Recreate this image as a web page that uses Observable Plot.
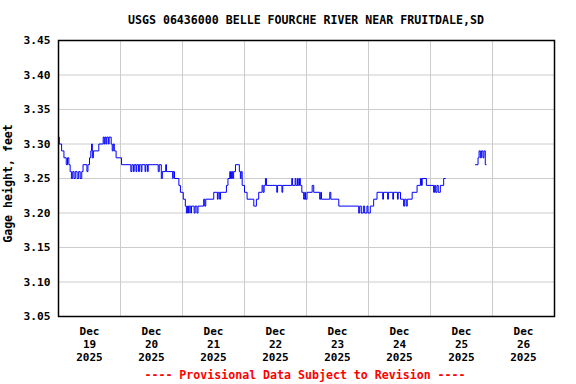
<!DOCTYPE html>
<html>
<head>
<meta charset="utf-8">
<script src="https://cdn.jsdelivr.net/npm/d3@7"></script>
<script src="https://cdn.jsdelivr.net/npm/@observablehq/plot@0.6"></script>
<style>
  html, body { margin: 0; padding: 0; background: #fff; }
  #wrap { position: relative; width: 576px; height: 384px; }
  .txt { position: absolute; left: 0; width: 612px; text-align: center; line-height: 14px;
         font-family: "DejaVu Sans Mono", monospace; font-weight: bold; white-space: pre; }
  #title { top: 13px; font-size: 11.6px; color: #000; }
  #footer { top: 368px; width: 610px; font-size: 11.6px; color: #ff0000; }
  svg { position: absolute; left: 0; top: 0; }
</style>
</head>
<body>
<div id="wrap">
  <div id="chart"></div>
  <div id="title" class="txt">USGS 06436000 BELLE FOURCHE RIVER NEAR FRUITDALE,SD</div>
  <div id="footer" class="txt">---- Provisional Data Subject to Revision ----</div>
</div>
<script>
// Hours since 2025-12-19 00:00 and gage height (ft); null = gap in record
const hours = [
  0, 0.3, 1.2, 2.1, 3.0, 3.5, 4.0, 4.5, 5.0, 5.5, 6.0, 6.5, 7.2, 7.8, 8.4, 9.0, 9.5,
  11.0, 11.4, 12.0, 12.5, 12.8, 13.1, 13.5, 15.6, 17.3, 17.7, 18.0, 18.4, 18.7, 19.3, 19.6,
  20.4, 20.8, 21.2, 21.6, 22.3, 24.4,
  28.0, 28.4, 29.0, 29.3, 30.0, 30.3, 31.0, 31.3, 32.0, 32.3, 33.5, 33.8, 34.5, 34.7,
  38.6, 39.0, 39.8, 40.2, 41.5, 41.8, 44.2, 44.4, 44.9,
  46.6, 47.2, 48.3, 49.1, 49.5, 49.9, 50.3, 50.6, 51.2, 51.5, 52.5, 52.9, 53.6, 54.0,
  56.2, 56.6, 57.0, 60.1, 61.5, 61.8, 62.4, 62.7,
  65.0, 65.6, 66.3, 66.6, 67.0, 67.4, 67.8, 68.5, 70.0, 70.4, 70.7, 71.1, 72.0, 73.0,
  75.6, 76.6, 77.5, 78.8, 79.2, 79.6, 80.1, 80.5,
  84.5, 84.8, 86.5, 86.8, 90.3, 90.6, 91.6, 91.9, 92.5, 92.8, 93.3, 93.6,
  94.2, 94.9, 95.3, 95.6, 96.2, 98.2, 98.8, 101.1, 101.5, 101.8, 105.0, 105.4, 106.3,
  108.5, 116.2, 116.6, 117.2, 118.0, 118.5, 119.4, 119.8, 120.7,
  122.0, 123.3, 125.5, 125.8, 127.4, 127.7, 129.4, 129.7, 131.2, 131.5, 132.4,
  133.6, 134.0, 134.6, 135.0, 136.9, 138.8, 140.1, 140.5, 140.8, 142.4,
  145.2, 145.6, 146.0, 146.5, 147.0, 147.8, 149.1, 149.8,
  150.2,
  161.4, 162.4, 162.8, 163.3, 163.7, 164.3, 164.7, 165.2, 165.6
];
const gage = [
  3.31, 3.30, 3.29, 3.28, 3.27, 3.28, 3.27, 3.26, 3.25, 3.26, 3.25, 3.26, 3.25, 3.26, 3.25, 3.26, 3.27,
  3.26, 3.27, 3.28, 3.29, 3.30, 3.28, 3.29, 3.30, 3.31, 3.30, 3.31, 3.30, 3.31, 3.30, 3.31,
  3.30, 3.29, 3.30, 3.29, 3.28, 3.27,
  3.26, 3.27, 3.26, 3.27, 3.26, 3.27, 3.26, 3.27, 3.26, 3.27, 3.26, 3.27, 3.26, 3.27,
  3.26, 3.27, 3.25, 3.26, 3.27, 3.26, 3.25, 3.26, 3.25,
  3.24, 3.23, 3.22, 3.21, 3.20, 3.21, 3.20, 3.21, 3.20, 3.21, 3.20, 3.21, 3.20, 3.21,
  3.22, 3.21, 3.22, 3.23, 3.22, 3.23, 3.22, 3.23,
  3.24, 3.25, 3.26, 3.25, 3.26, 3.25, 3.26, 3.27, 3.26, 3.25, 3.26, 3.24, 3.23, 3.22,
  3.21, 3.22, 3.23, 3.24, 3.23, 3.24, 3.25, 3.24,
  3.23, 3.24, 3.23, 3.24, 3.25, 3.24, 3.25, 3.24, 3.25, 3.24, 3.25, 3.24,
  3.23, 3.22, 3.23, 3.22, 3.23, 3.24, 3.23, 3.22, 3.23, 3.22, 3.23, 3.22, 3.22,
  3.21, 3.20, 3.21, 3.20, 3.21, 3.20, 3.21, 3.20, 3.21,
  3.22, 3.23, 3.22, 3.23, 3.22, 3.23, 3.22, 3.23, 3.22, 3.23, 3.22,
  3.21, 3.22, 3.21, 3.22, 3.23, 3.24, 3.25, 3.24, 3.25, 3.24,
  3.23, 3.24, 3.23, 3.24, 3.23, 3.24, 3.25, 3.25,
  null,
  3.27, 3.28, 3.29, 3.28, 3.29, 3.28, 3.29, 3.27, 3.27
];
const yTicks = [3.05, 3.10, 3.15, 3.20, 3.25, 3.30, 3.35, 3.40, 3.45];
const dayLabels = ["19", "20", "21", "22", "23", "24", "25", "26"];
const monthLabel = "Dec";
const yearLabel = "2025";
const yLabel = "Gage height, feet";

const t0 = Date.UTC(2025, 11, 19);
const H = 3600e3;
const data = hours.map((h, i) => ({ t: new Date(t0 + h * H), v: gage[i] }));
const dayStarts = d3.range(0, 9).map(d => new Date(t0 + d * 24 * H));
const noonTicks = dayLabels.map((_, d) => new Date(t0 + (d * 24 + 12) * H));
const font = "DejaVu Sans Mono, monospace";

const chart = Plot.plot({
  width: 576,
  height: 384,
  marginLeft: 58,
  marginRight: 22,
  marginTop: 40,
  marginBottom: 68,
  style: { fontFamily: font, fontSize: "11px", fontWeight: "bold", color: "#000", background: "transparent" },
  x: { type: "utc", domain: [dayStarts[0], dayStarts[8]] },
  y: { domain: [3.05, 3.45] },
  marks: [
    Plot.gridX(dayStarts, { stroke: "#cccccc", strokeOpacity: 1, strokeWidth: 1 }),
    Plot.gridY(yTicks, { stroke: "#cccccc", strokeOpacity: 1, strokeWidth: 1 }),
    Plot.axisX(noonTicks, {
      tickSize: 0, tickPadding: 9, lineHeight: 1.18,
      tickFormat: (d, i) => `${monthLabel}\n${dayLabels[i]}\n${yearLabel}`,
      label: null, fontSize: 11
    }),
    Plot.axisY(yTicks, {
      tickSize: 0, tickPadding: 8, tickFormat: d3.format(".2f"), fontSize: 11.2, label: null
    }),
    Plot.text([yLabel], {
      text: d => d, frameAnchor: "left", textAnchor: "middle", dx: -50.5, dy: 5, rotate: -90,
      fontSize: 11.6, fontWeight: "bold", fill: "#000"
    }),
    Plot.line(data, { x: "t", y: "v", curve: "step-after", stroke: "#0000ff", strokeWidth: 1 }),
    Plot.frame({ stroke: "#000", strokeWidth: 1.5 })
  ]
});
document.getElementById("chart").appendChild(chart);
</script>
</body>
</html>
